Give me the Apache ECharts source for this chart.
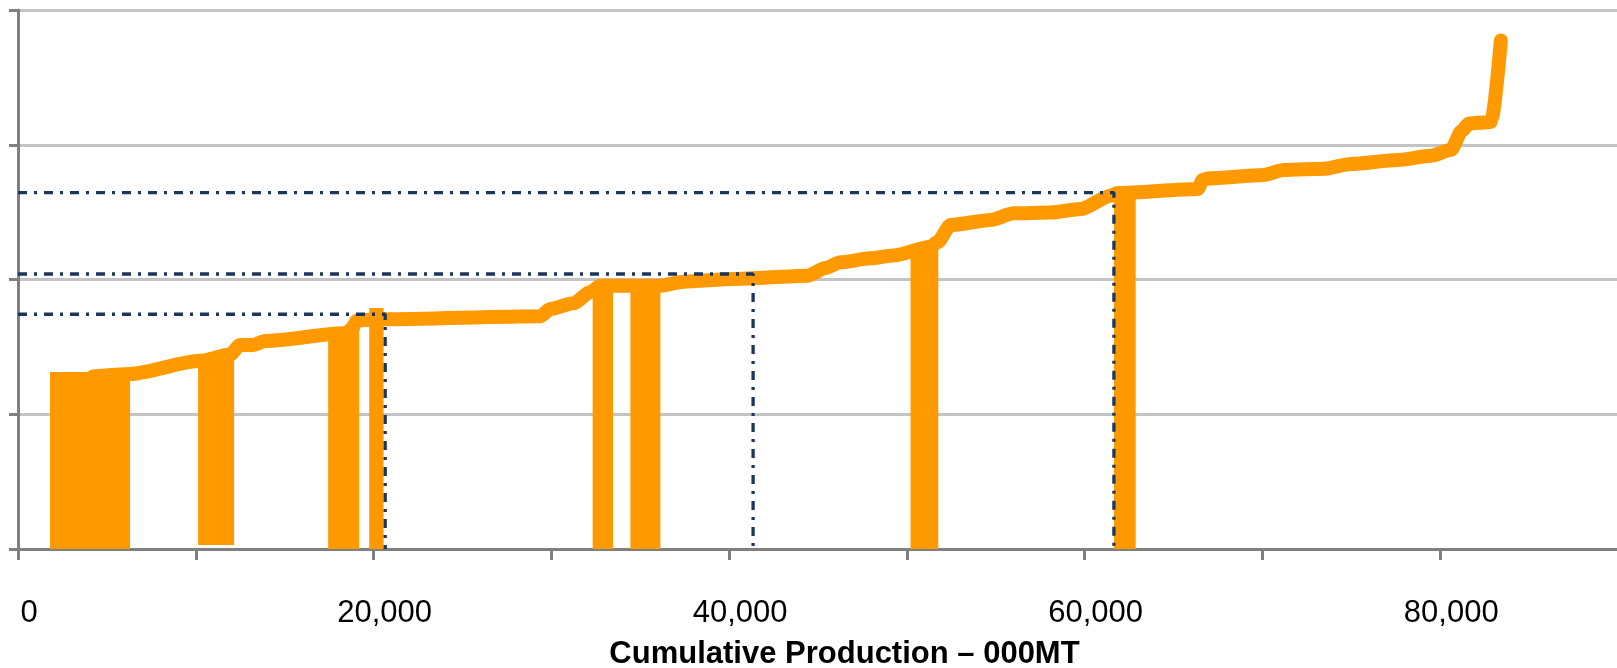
<!DOCTYPE html>
<html>
<head>
<meta charset="utf-8">
<style>
  html, body { margin: 0; padding: 0; background: #ffffff; }
  #chart { width: 1617px; height: 668px; }
</style>
<script src="https://cdn.jsdelivr.net/npm/echarts@6/dist/echarts.min.js"></script>
</head>
<body>
<div id="chart"></div>
<script>
// Industry cost curve: cumulative production (000 MT) vs. unit cost
const curveProduction = [4221, 6304, 10244, 11932, 12495, 13227, 13902, 18518, 18800, 19081,
  20544, 29381, 29944, 31238, 32195, 32758, 36135, 37430, 40244, 44409, 45422, 46266, 47955,
  49249, 51332, 51726, 52458, 54709, 56004, 58086, 59775, 61463, 61857, 66360, 66641, 66923,
  70075, 71200, 73452, 74971, 77617, 79474, 80600, 81219, 81613, 82851, 82907, 83413];
const curveCost = [128.0, 129.9, 139.7, 144.3, 151.4, 151.4, 154.4, 160.3, 164.0, 169.6,
  170.5, 172.8, 178.1, 182.3, 190.7, 195.4, 195.4, 198.4, 200.4, 202.8, 208.5, 212.8, 215.7,
  217.8, 224.3, 227.8, 240.4, 244.2, 249.1, 249.7, 252.3, 262.2, 264.2, 267.2, 273.8, 275.0,
  277.6, 281.3, 282.2, 285.7, 288.7, 291.9, 296.1, 310.4, 315.8, 316.9, 320.0, 377.4];

// Highlighted producers: production span and cost block
const blockStart = [1801, 10131, 17448, 19756, 32324, 34446, 50206, 61648];
const blockEnd   = [6304, 12158, 19193, 20561, 33472, 36135, 51765, 62869];
const blockBase  = [0, 3, 0, 0, 0, 0, 0, 0];
const blockTop   = [131.4, 142, 163, 178.9, 195, 195, 222, 267];

// Reference levels (dash-dot guides)
const guideProduction = [20655, 41349, 61645];
const guideCost       = [174.2, 204.1, 264.4];

// Axis
const xLabelValues = [0, 20000, 40000, 60000, 80000];
const xAxisTitle = 'Cumulative Production – 000MT';

const orange = '#FF9900';
const navy = '#1B365D';
const axisGray = '#808080';

const curveData = curveProduction.map((x, i) => [x, curveCost[i]]);
const blockData = blockStart.map((x, i) => [x, blockEnd[i], blockBase[i], blockTop[i]]);

const guideSeries = guideProduction.map((x, i) => ({
  type: 'line',
  data: [[0, guideCost[i]], [x, guideCost[i]], [x, 0]],
  showSymbol: false,
  silent: true,
  z: 5,
  lineStyle: { color: navy, width: 3.3, type: [9, 7, 3, 7], cap: 'butt' }
}));

const chart = echarts.init(document.getElementById('chart'), null, { renderer: 'canvas' });
chart.setOption({
  animation: false,
  backgroundColor: '#ffffff',
  grid: { left: 18, right: -1, top: 10, bottom: 119, containLabel: false, outerBoundsMode: 'none' },
  xAxis: {
    type: 'value',
    min: 0,
    max: 90000,
    interval: 10000,
    name: xAxisTitle,
    nameLocation: 'middle',
    nameGap: 89.5,
    nameTextStyle: {
      fontFamily: '"Liberation Sans", Arial, sans-serif',
      fontWeight: 'bold',
      fontSize: 31,
      color: '#000000',
      padding: [0, 0, 0, 53]
    },
    axisLine: { show: true, lineStyle: { color: axisGray, width: 3 } },
    axisTick: { show: true, length: 11, lineStyle: { color: axisGray, width: 3 } },
    splitLine: { show: false },
    axisLabel: {
      margin: 48.5,
      fontFamily: '"Liberation Sans", Arial, sans-serif',
      fontSize: 31,
      color: '#000000',
      padding: [0, 0, 0, 22],
      showMaxLabel: true,
      formatter: v => xLabelValues.includes(v) ? v.toLocaleString('en-US') : ''
    }
  },
  yAxis: {
    type: 'value',
    min: 0,
    max: 400,
    interval: 100,
    axisLine: { show: true, lineStyle: { color: axisGray, width: 3 } },
    axisTick: { show: true, length: 9, lineStyle: { color: axisGray, width: 3 } },
    axisLabel: { show: false },
    splitLine: { show: true, lineStyle: { color: '#C4C4C4', width: 3 } }
  },
  series: [
    {
      type: 'custom',
      data: blockData,
      encode: { x: [0, 1], y: [2, 3] },
      z: 2,
      silent: true,
      renderItem: (params, api) => {
        const topLeft = api.coord([api.value(0), api.value(3)]);
        const bottomRight = api.coord([api.value(1), api.value(2)]);
        return {
          type: 'rect',
          shape: {
            x: topLeft[0],
            y: topLeft[1],
            width: bottomRight[0] - topLeft[0],
            height: bottomRight[1] - topLeft[1]
          },
          style: { fill: orange }
        };
      }
    },
    {
      type: 'line',
      data: curveData,
      showSymbol: false,
      silent: true,
      smooth: 0.25,
      smoothMonotone: 'x',
      z: 3,
      lineStyle: { color: orange, width: 14, cap: 'round', join: 'round' }
    },
    ...guideSeries
  ]
});
</script>
</body>
</html>
